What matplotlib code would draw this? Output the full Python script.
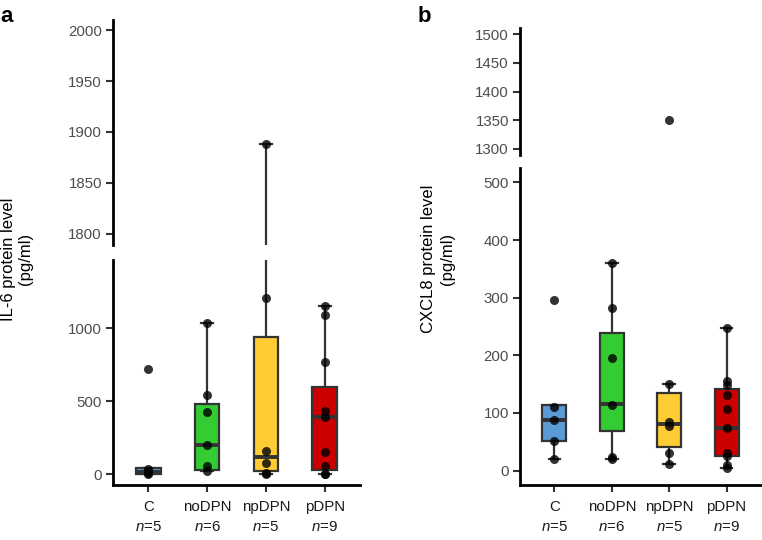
import matplotlib
matplotlib.use("Agg")
import matplotlib.pyplot as plt

plt.rcParams['font.family'] = ['Liberation Sans', 'DejaVu Sans']
plt.rcParams['mathtext.fontset'] = 'custom'
plt.rcParams['mathtext.rm'] = 'Liberation Sans'
plt.rcParams['mathtext.it'] = 'Liberation Sans:italic'

groups = ['C', 'noDPN', 'npDPN', 'pDPN']
n_labels = ['5', '6', '5', '9']
colors = ['#5b9bd5', '#33cc33', '#ffcc33', '#cc0000']

# IL-6 (panel a): box statistics
il6_q1 = [0, 27, 21, 27]
il6_med = [12, 199, 119, 388]
il6_q3 = [43, 482, 941, 598]
il6_lo = [0, 20, 0, 0]
il6_hi = [43, 1037, 1888, 1151]
il6_pts = [
    [0, 8, 20, 38, 721],
    [20, 57, 199, 423, 543, 1037],
    [0, 5, 78, 160, 1203, 1888],
    [0, 3, 55, 150, 390, 433, 765, 1088, 1151],
]

# CXCL8 (panel b)
cx_q1 = [50.5, 68, 41, 26]
cx_med = [87, 116, 81, 74]
cx_q3 = [113, 238, 135, 142]
cx_lo = [20, 20, 11, 5]
cx_hi = [113, 361, 151, 247]
cx_pts = [
    [20, 52, 87, 111, 296],
    [20, 24, 113, 195, 282, 361],
    [11, 31, 77, 85, 151, 1350],
    [4, 10, 26, 31, 74, 107, 131, 149, 155, 247],
]

W, H = 762, 540
fig = plt.figure(figsize=(W / 100, H / 100), dpi=100)


def add_ax(x0, x1, ytop, ybot):
    return fig.add_axes([x0 / W, 1 - ybot / H, (x1 - x0) / W, (ybot - ytop) / H])


def draw(ax, q1, med, q3, lo, hi, pts):
    stats = []
    for i in range(4):
        stats.append(dict(q1=q1[i], med=med[i], q3=q3[i], whislo=lo[i], whishi=hi[i], fliers=[]))
    bp = ax.bxp(stats, positions=[1, 2, 3, 4], widths=0.42, patch_artist=True,
                showfliers=False, capwidths=0.2,
                boxprops=dict(edgecolor='#333333', linewidth=1.6),
                medianprops=dict(color='#333333', linewidth=2.8),
                whiskerprops=dict(color='#333333', linewidth=1.6),
                capprops=dict(color='#333333', linewidth=1.6))
    for patch, c in zip(bp['boxes'], colors):
        patch.set_facecolor(c)
    for i, p in enumerate(pts):
        ax.plot([i + 1] * len(p), p, 'o', color='black', alpha=0.8, ms=6.5,
                mec='none', zorder=3, clip_on=True)
    ax.set_xlim(0.4, 4.6)
    for s in ['top', 'right']:
        ax.spines[s].set_visible(False)
    for s in ['left', 'bottom']:
        ax.spines[s].set_linewidth(2)
        ax.spines[s].set_color('black')
    ax.tick_params(axis='y', length=5, width=1.5, color='#333333', labelsize=10.8,
                   labelcolor='#4d4d4d', pad=3)
    ax.tick_params(axis='x', length=5, width=1.5, color='#333333', labelsize=10.8,
                   labelcolor='#1a1a1a', pad=6)


def top_style(ax):
    ax.spines['bottom'].set_visible(False)
    ax.set_xticks([])


xlabels = [g + '\n$\\mathit{n}$=' + n for g, n in zip(groups, n_labels)]

# panel a
a_top = add_ax(113, 360, 20, 245)
a_bot = add_ax(113, 360, 260, 485)
for ax in (a_top, a_bot):
    draw(ax, il6_q1, il6_med, il6_q3, il6_lo, il6_hi, il6_pts)
a_top.set_ylim(1789, 2010)
a_top.set_yticks([1800, 1850, 1900, 1950, 2000])
top_style(a_top)
a_bot.set_ylim(-75, 1466)
a_bot.set_yticks([0, 500, 1000])
a_bot.set_xticks([1, 2, 3, 4])
a_bot.set_xticklabels(xlabels, linespacing=1.55)

# panel b
b_top = add_ax(520, 761, 28, 155)
b_bot = add_ax(520, 761, 168, 485)
for ax in (b_top, b_bot):
    draw(ax, cx_q1, cx_med, cx_q3, cx_lo, cx_hi, cx_pts)
b_top.set_ylim(1289.5, 1511)
b_top.set_yticks([1300, 1350, 1400, 1450, 1500])
top_style(b_top)
b_bot.set_ylim(-25, 525)
b_bot.set_yticks([0, 100, 200, 300, 400, 500])
b_bot.set_xticks([1, 2, 3, 4])
b_bot.set_xticklabels(xlabels, linespacing=1.55)

fig.text(17 / W, 1 - 259 / H, 'IL-6 protein level\n(pg/ml)', rotation=90,
         ha='center', va='center', multialignment='center', fontsize=12, linespacing=1.1)
fig.text(438 / W, 1 - 259 / H, 'CXCL8 protein level\n(pg/ml)', rotation=90,
         ha='center', va='center', multialignment='center', fontsize=12, linespacing=1.3)

fig.text(0 / W, 1 - 22 / H, 'a', fontsize=16, fontweight='bold', ha='left', va='baseline')
fig.text(418 / W, 1 - 22 / H, 'b', fontsize=16, fontweight='bold', ha='left', va='baseline')

fig.savefig('out.png', dpi=100)
